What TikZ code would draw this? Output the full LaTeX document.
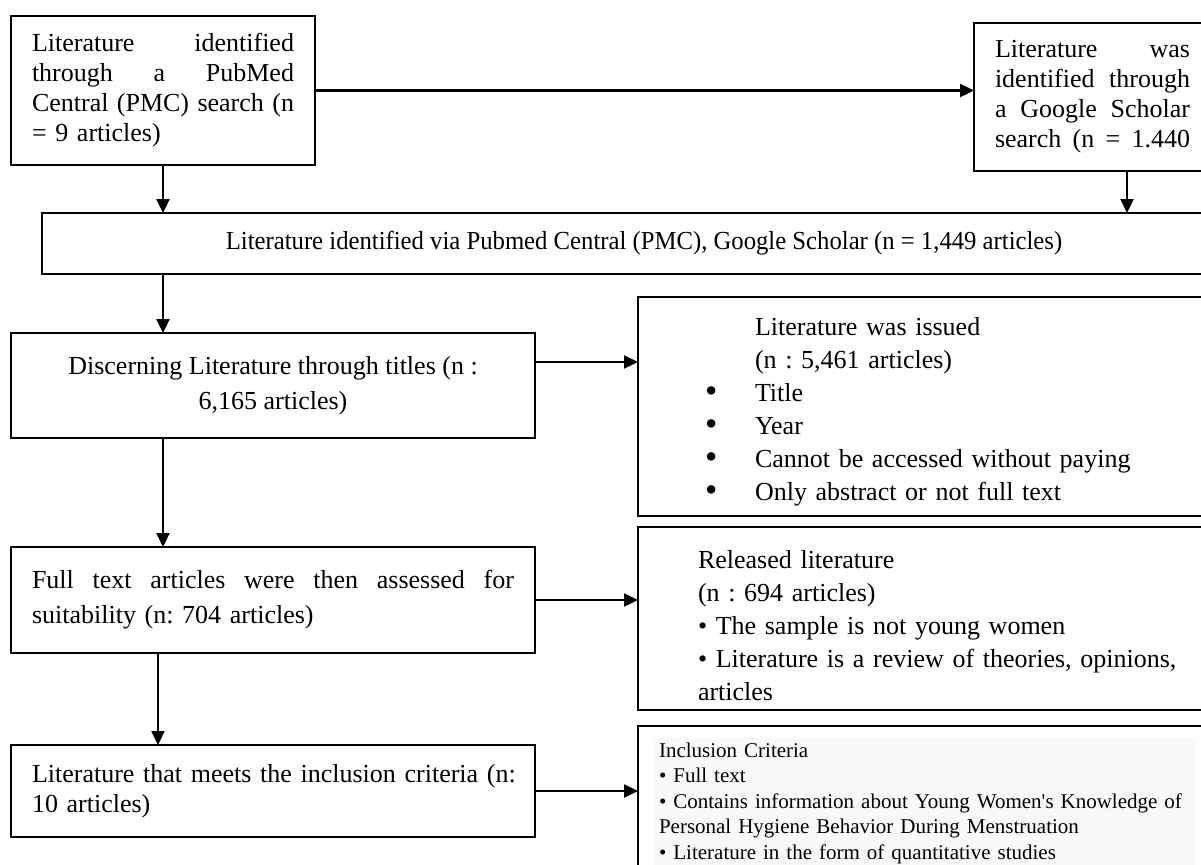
\documentclass[tikz,border=0pt]{standalone}
\usepackage{fontspec}
\usepackage{graphicx}
\setmainfont{Liberation Serif}
\usetikzlibrary{arrows.meta}
\hyphenpenalty=10000
\exhyphenpenalty=10000
\frenchspacing
\definecolor{critbg}{HTML}{F8F9FA}
\newcommand{\bigbul}{\raisebox{-1pt}{\scalebox{1.35}{\textbullet}}}
\begin{document}
\begin{tikzpicture}[x=1pt,y=-1pt,
  box/.style={draw, line width=1.8pt, rectangle, outer sep=0pt},
  arr/.style={line width=2.3pt, -{Triangle[length=14pt,width=13pt]}},
  big/.style={font=\fontsize{26}{30}\selectfont},
  plain/.style={inner sep=0pt, outer sep=0pt, align=left, anchor=north west}
]
\useasboundingbox (0,0) rectangle (1201,864);
\clip (0,0) rectangle (1201,864);

% left column and top boxes
\node[box, big, inner xsep=21pt, inner ysep=0pt, text width=262pt, minimum height=149pt, align=left]
  (A) at (163,90.5)
  {\makebox[262pt][l]{Literature\hfill identified}\\
   \makebox[262pt][l]{through\hfill a\hfill PubMed}\\
   \makebox[262pt][l]{Central\hfill (PMC)\hfill search\hfill (n}\\
   = 9 articles)};

\node[box, big, inner xsep=21pt, inner ysep=0pt, text width=195pt, minimum height=148pt, align=left]
  (B) at (1092.5,97)
  {\makebox[195pt][l]{Literature\hfill was}\\
   \makebox[195pt][l]{identified\hfill through}\\
   \makebox[195pt][l]{a\hfill Google\hfill Scholar}\\
   \makebox[195pt][l]{search\hfill (n\hfill =\hfill 1.440}};

\node[box, big, inner sep=0pt, minimum width=1204pt, minimum height=61pt]
  (C) at (644,243.5)
  {\scalebox{0.95}[1]{Literature identified via Pubmed Central (PMC), Google Scholar (n = 1,449 articles)}};

\node[box, font=\fontsize{26}{35}\selectfont, inner sep=0pt, minimum width=524pt, minimum height=105pt, align=center]
  (D) at (273,385.5)
  {Discerning Literature through titles (n :\\6,165 articles)};

\node[box, font=\fontsize{26}{35}\selectfont, inner xsep=21pt, inner ysep=0pt, text width=482pt, minimum height=106pt, align=left]
  (P) at (273,600)
  {\makebox[482pt][l]{Full\hfill text\hfill articles\hfill were\hfill then\hfill assessed\hfill for}\\
   suitability (n: 704 articles)};

\node[box, big, inner xsep=21pt, inner ysep=0pt, text width=482pt, minimum height=92pt, align=left]
  (H) at (273,791)
  {\makebox[482pt][l]{Literature that meets the inclusion criteria (n:}\\
   10 articles)};

% right column boxes
\node[box, inner sep=0pt, minimum width=626pt, minimum height=219pt] (E) at (951,406.5) {};
\node[plain, font=\fontsize{26}{33}\selectfont, text width=480pt] (Et) at (705,315)
  {\rule{0pt}{20pt}\hspace*{50pt}Literature was issued\\
   \hspace*{50pt}(n : 5,461 articles)\\
   \makebox[50pt][l]{\bigbul}Title\\
   \makebox[50pt][l]{\bigbul}Year\\
   \makebox[50pt][l]{\bigbul}Cannot be accessed without paying\\
   \makebox[50pt][l]{\bigbul}Only abstract or not full text};

\node[box, inner sep=0pt, minimum width=626pt, minimum height=183pt] (F) at (951,618.5) {};
\node[plain, font=\fontsize{26}{33}\selectfont, text width=500pt] (Ft) at (698,548)
  {\rule{0pt}{20pt}Released literature\\
   (n : 694 articles)\\
   \textbullet{} The sample is not young women\\
   \textbullet{} Literature is a review of theories, opinions,\\
   articles};

\node[box, inner sep=0pt, minimum width=626pt, minimum height=174pt] (G) at (951,813) {};
\fill[critbg] (653,738) rectangle (1196,900);
\node[plain, font=\fontsize{21}{25.5}\selectfont, text width=540pt] (Gt) at (659,741)
  {\rule{0pt}{16pt}Inclusion Criteria\\
   \textbullet{} Full text\\
   \textbullet{} Contains information about Young Women\textquotesingle s Knowledge of\\
   Personal Hygiene Behavior During Menstruation\\
   \textbullet{} Literature in the form of quantitative studies};

% connectors
\coordinate (bx) at (1127,0);
\coordinate (dy) at (0,362);
\coordinate (hx) at (158,0);
\draw[arr] (A.east) -- (A.east -| B.west);
\draw[arr] (A.south) -- (A.south |- C.north);
\draw[arr] (B.south -| bx) -- (C.north -| bx);
\draw[arr] (C.south -| A.south) -- (D.north -| A.south);
\draw[arr] (D.east |- dy) -- (E.west |- dy);
\draw[arr] (D.south -| A.south) -- (P.north -| A.south);
\draw[arr] (P.east) -- (P.east -| F.west);
\draw[arr] (P.south -| hx) -- (H.north -| hx);
\draw[arr] (H.east) -- (H.east -| G.west);
\end{tikzpicture}
\end{document}
